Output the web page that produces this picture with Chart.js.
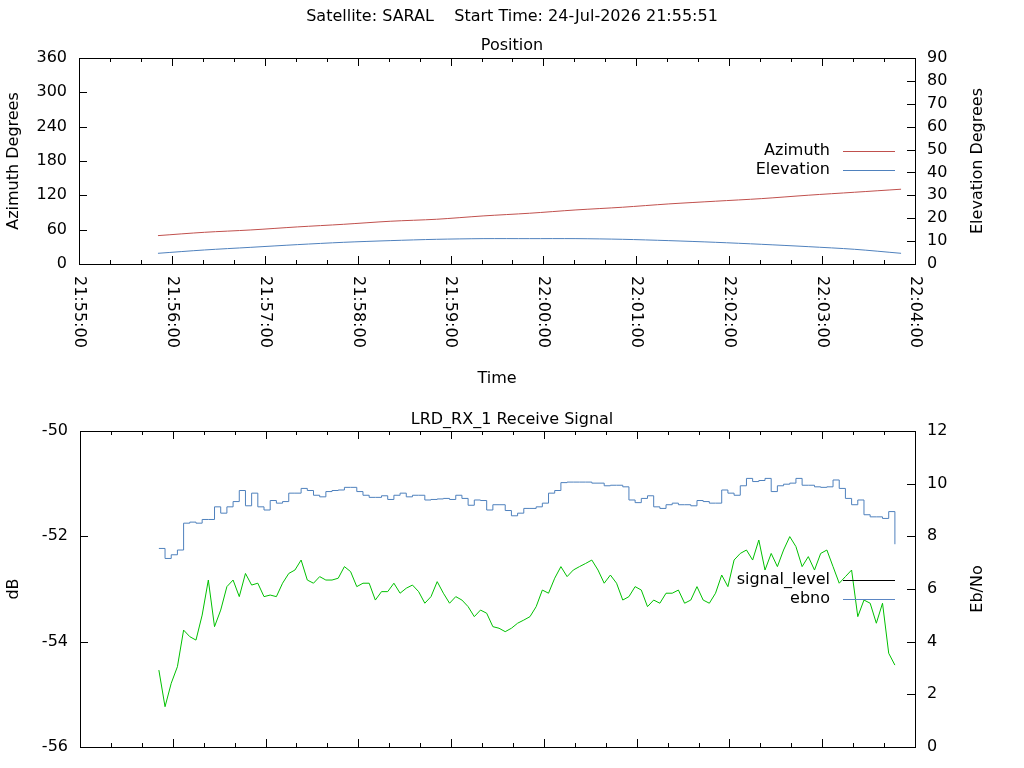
<!DOCTYPE html>
<html><head><meta charset="utf-8">
<script src="https://cdn.jsdelivr.net/npm/chart.js@4"></script>
<style>
html,body{margin:0;padding:0;background:#fff;width:1024px;height:768px;overflow:hidden;font-family:"DejaVu Sans",sans-serif;}
.box{position:absolute;left:0;width:1024px;}
</style></head><body>
<div class="box" style="top:0;height:400px"><canvas id="c1"></canvas></div>
<div class="box" style="top:400px;height:368px"><canvas id="c2"></canvas></div>
<script>
// ---- data ----
const mainTitle = "Satellite: SARAL    Start Time: 24-Jul-2026 21:55:51";
const posTitle = "Position";
const sigTitle = "LRD_RX_1 Receive Signal";
const axisStart = "21:55:00"; // seconds offsets below are from this time
const tickLabels = ["21:55:00","21:56:00","21:57:00","21:58:00","21:59:00","22:00:00","22:01:00","22:02:00","22:03:00","22:04:00"];
const posStartSec = 51, posStepSec = 30;
const azimuth = [49.6,55.4,59.5,64.8,69.4,74.7,78.2,84.0,88.7,94.5,99.2,105.0,109.7,114.3,120.2,125.4,130.7];
const elevation = [4.67,6.13,7.29,8.46,9.48,10.21,10.79,11.08,11.08,11.08,10.79,10.21,9.48,8.60,7.58,6.42,4.67];
const sigStartSec = 51, sigStepSec = 4;
const signalLevel = [
-52.23,-52.42,-52.35,-52.26,-51.75,-51.73,-51.75,-51.68,-51.68,-51.44,-51.56,-51.44,-51.34,-51.13,-51.42,-51.18,-51.44,-51.50,-51.32,-51.37,
-51.34,-51.18,-51.18,-51.09,-51.13,-51.22,-51.25,-51.15,-51.13,-51.12,-51.07,-51.07,-51.15,-51.22,-51.26,-51.26,-51.23,-51.30,-51.22,-51.18,
-51.25,-51.22,-51.22,-51.31,-51.30,-51.29,-51.28,-51.30,-51.22,-51.28,-51.41,-51.31,-51.32,-51.50,-51.40,-51.40,-51.51,-51.61,-51.56,-51.47,
-51.47,-51.44,-51.37,-51.18,-51.13,-50.98,-50.97,-50.97,-50.97,-50.97,-50.99,-50.99,-51.04,-51.03,-51.03,-51.06,-51.31,-51.36,-51.28,-51.23,
-51.44,-51.47,-51.40,-51.37,-51.40,-51.40,-51.42,-51.32,-51.34,-51.37,-51.37,-51.12,-51.18,-51.22,-51.04,-50.90,-50.96,-50.94,-50.90,-51.15,
-51.04,-51.01,-50.99,-50.90,-51.03,-51.03,-51.06,-51.07,-51.06,-50.93,-51.09,-51.28,-51.40,-51.31,-51.59,-51.63,-51.63,-51.66,-51.53,-52.15];
const ebno = [
2.92,1.53,2.42,3.05,4.44,4.19,4.06,5.01,6.34,4.57,5.20,6.09,6.34,5.71,6.59,6.15,6.22,5.71,5.77,5.71,
6.22,6.59,6.72,7.10,6.34,6.22,6.47,6.34,6.34,6.41,6.85,6.66,6.09,6.22,6.22,5.58,5.90,5.90,6.22,5.84,
6.03,6.15,5.90,5.46,5.71,6.28,5.84,5.46,5.71,5.58,5.33,4.95,5.20,5.08,4.57,4.51,4.38,4.51,4.70,4.82,
4.95,5.33,5.96,5.84,6.41,6.85,6.47,6.72,6.85,6.97,7.10,6.72,6.22,6.53,6.22,5.58,5.71,6.09,5.96,5.33,
5.58,5.46,5.84,5.84,5.96,5.46,5.58,6.09,5.58,5.46,5.84,6.53,6.09,7.10,7.35,7.48,7.10,7.86,6.72,7.35,
6.85,7.48,7.99,7.61,6.85,7.23,6.72,7.35,7.48,6.85,6.22,6.47,6.72,4.95,5.58,5.46,4.70,5.46,3.56,3.11];

const FONT = '"DejaVu Sans", sans-serif';
const FSIZE = '16px ';
const toPts = (arr, s0, st) => arr.map((v, i) => ({x: s0 + i*st, y: v}));

function framePlugin(cfg){
  return {
    id: 'frame'+cfg.id,
    afterDraw(chart){
      const ctx = chart.ctx, a = chart.chartArea;
      const xs = chart.scales.x, yl = chart.scales.yL, yr = chart.scales.yR;
      ctx.save();
      ctx.strokeStyle = '#000'; ctx.lineWidth = 1;
      ctx.strokeRect(Math.round(a.left)+0.5, Math.round(a.top)+0.5, Math.round(a.right-a.left), Math.round(a.bottom-a.top));
      ctx.beginPath();
      for (let s = 0; s <= 540; s += 20) {
        const px = Math.round(xs.getPixelForValue(s))+0.5;
        const len = (s % 60 === 0) ? 8 : 4;
        ctx.moveTo(px, a.bottom); ctx.lineTo(px, a.bottom-len);
        ctx.moveTo(px, a.top); ctx.lineTo(px, a.top+len);
      }
      cfg.leftTicks.forEach(v => { const py = Math.round(yl.getPixelForValue(v))+0.5; ctx.moveTo(a.left,py); ctx.lineTo(a.left+8,py); });
      cfg.rightTicks.forEach(v => { const py = Math.round(yr.getPixelForValue(v))+0.5; ctx.moveTo(a.right,py); ctx.lineTo(a.right-8,py); });
      ctx.stroke();
      ctx.fillStyle = '#000'; ctx.font = FSIZE+FONT;
      ctx.textBaseline = 'middle';
      ctx.textAlign = 'right';
      cfg.leftTicks.forEach(v => ctx.fillText(String(v), a.left-12, yl.getPixelForValue(v)));
      ctx.textAlign = 'left';
      cfg.rightTicks.forEach(v => ctx.fillText(String(v), a.right+12, yr.getPixelForValue(v)));
      if (cfg.xLabels) {
        tickLabels.forEach((t, i) => {
          const px = xs.getPixelForValue(i*60);
          ctx.save(); ctx.translate(px, a.bottom+12); ctx.rotate(Math.PI/2);
          ctx.textAlign = 'left'; ctx.textBaseline = 'middle';
          ctx.fillText(t, 0, 0); ctx.restore();
        });
        ctx.textAlign = 'center';
        ctx.fillText('Time', (a.left+a.right)/2, a.bottom+115);
      }
      [[cfg.leftTitle, 14],[cfg.rightTitle, 978]].forEach(([t,x]) => {
        ctx.save(); ctx.translate(x, (a.top+a.bottom)/2); ctx.rotate(-Math.PI/2);
        ctx.textAlign = 'center'; ctx.fillText(t, 0, 0); ctx.restore();
      });
      ctx.textAlign = 'center';
      cfg.titles.forEach(([t,y]) => ctx.fillText(t, 512, y));
      cfg.legend.forEach(([t,c,y]) => {
        ctx.textAlign = 'right'; ctx.fillStyle = '#000'; ctx.fillText(t, 830, y);
        ctx.strokeStyle = c; ctx.beginPath(); ctx.moveTo(843, Math.round(y)+0.5); ctx.lineTo(895, Math.round(y)+0.5); ctx.stroke();
      });
      ctx.restore();
    }
  };
}

function scales(lmin,lmax,rmin,rmax,lw,rw,xh){
  const hid = {display:false};
  return {
    x: {type:'linear', min:0, max:540, position:'bottom', ticks:hid, grid:hid, border:hid, afterFit:s=>{s.height=xh;}},
    yL: {type:'linear', position:'left', min:lmin, max:lmax, ticks:hid, grid:hid, border:hid, afterFit:s=>{s.width=lw;}},
    yR: {type:'linear', position:'right', min:rmin, max:rmax, ticks:hid, grid:hid, border:hid, afterFit:s=>{s.width=rw;}}
  };
}
const common = {responsive:true, maintainAspectRatio:false, animation:false,
  plugins:{legend:{display:false}, tooltip:{enabled:false}},
  elements:{point:{radius:0}}};

new Chart(document.getElementById('c1'), {
  type:'line',
  data:{datasets:[
    {label:'Azimuth', data:toPts(azimuth,posStartSec,posStepSec), yAxisID:'yL', borderColor:'#c0504d', borderWidth:1, tension:0.3},
    {label:'Elevation', data:toPts(elevation,posStartSec,posStepSec), yAxisID:'yR', borderColor:'#4f81bd', borderWidth:1, tension:0.3}
  ]},
  options:Object.assign({}, common, {
    layout:{padding:{top:58,left:0,right:0,bottom:0}},
    scales:scales(0,360,0,90,79,109,136)
  }),
  plugins:[framePlugin({id:1, leftTicks:[0,60,120,180,240,300,360], rightTicks:[0,10,20,30,40,50,60,70,80,90],
    xLabels:true, leftTitle:'Azimuth Degrees', rightTitle:'Elevation Degrees',
    titles:[[mainTitle,17],[posTitle,46]],
    legend:[['Azimuth','#c0504d',151],['Elevation','#4f81bd',170]]})]
});

new Chart(document.getElementById('c2'), {
  type:'line',
  data:{datasets:[
    {label:'signal_level', data:toPts(signalLevel,sigStartSec,sigStepSec), yAxisID:'yL', borderColor:'#4f81bd', borderWidth:1, stepped:true},
    {label:'ebno', data:toPts(ebno,sigStartSec,sigStepSec), yAxisID:'yR', borderColor:'#00c000', borderWidth:1}
  ]},
  options:Object.assign({}, common, {
    layout:{padding:{top:31,left:0,right:0,bottom:0}},
    scales:scales(-56,-50,0,12,80,109,21)
  }),
  plugins:[framePlugin({id:2, leftTicks:[-56,-54,-52,-50], rightTicks:[0,2,4,6,8,10,12],
    xLabels:false, leftTitle:'dB', rightTitle:'Eb/No',
    titles:[[sigTitle,20]],
    legend:[['signal_level','#000',180],['ebno','#5b86c4',199]]})]
});
</script></body></html>
